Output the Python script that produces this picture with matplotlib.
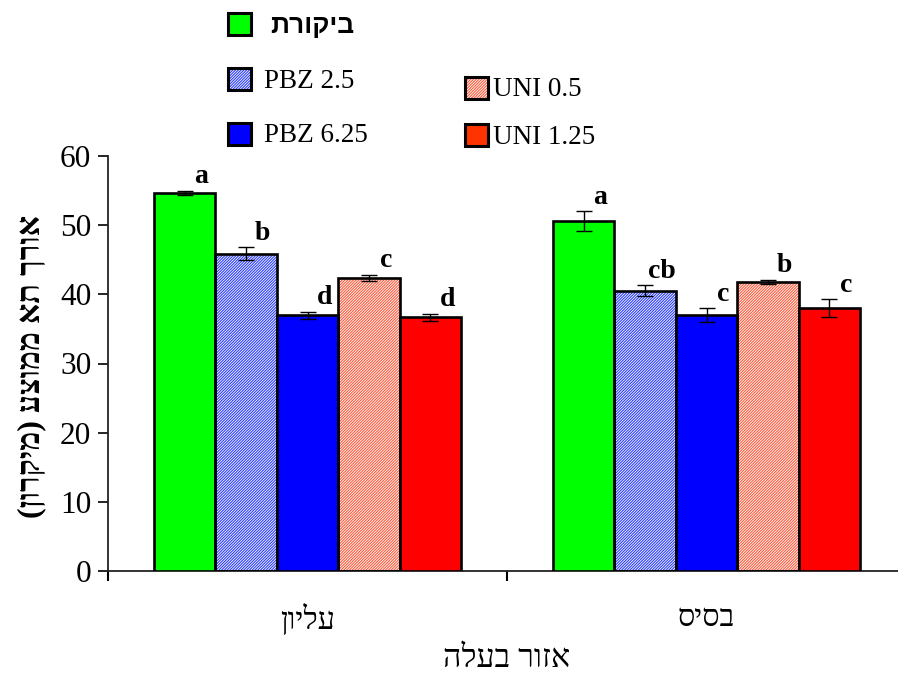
import matplotlib
matplotlib.use("Agg")
import matplotlib.pyplot as plt
from matplotlib.patches import Rectangle
import numpy as np

# ---- data -------------------------------------------------------------
regions = ["עליון", "בסיס"]                       # leaf region
treatments = ["ביקורת", "PBZ 2.5", "PBZ 6.25", "UNI 0.5", "UNI 1.25"]
control_vals = [54.7, 50.6]
pbz25_vals = [45.9, 40.5]
pbz625_vals = [37.0, 37.0]
uni05_vals = [42.4, 41.8]
uni125_vals = [36.7, 38.0]
control_err = [0.3, 1.4]
pbz25_err = [0.9, 0.8]
pbz625_err = [0.5, 1.0]
uni05_err = [0.45, 0.3]
uni125_err = [0.5, 1.3]
control_sig = ["a", "a"]
pbz25_sig = ["b", "cb"]
pbz625_sig = ["d", "c"]
uni05_sig = ["c", "b"]
uni125_sig = ["d", "c"]
y_ticks = [0, 10, 20, 30, 40, 50, 60]
y_label = "אורך תא ממוצע (מיקרון)"
x_label = "אזור בעלה"

values = [control_vals, pbz25_vals, pbz625_vals, uni05_vals, uni125_vals]
errors = [control_err, pbz25_err, pbz625_err, uni05_err, uni125_err]
sigs = [control_sig, pbz25_sig, pbz625_sig, uni05_sig, uni125_sig]


def visual(s):
    """Hebrew runs are drawn left-to-right, so put them in visual order."""
    if not any("\u0590" <= ch <= "\u05ff" for ch in s):
        return s
    swap = {"(": ")", ")": "("}
    return "".join(swap.get(ch, ch) for ch in reversed(s))


# ---- styles -----------------------------------------------------------
SERIF = ["Liberation Serif", "DejaVu Serif", "DejaVu Sans"]
SANS = ["Liberation Sans", "DejaVu Sans"]
plt.rcParams["font.family"] = SERIF
plt.rcParams["hatch.linewidth"] = 0.8

faces = ["#00ff00", "white", "#0000ff", "white", "#ff0000"]
hatch_cols = [None, "#2a3cff", None, "#ff5a3c", None]
hatches = [None, "////////////", None, "////////////", None]
legend_faces = ["#00ff00", "white", "#0000ff", "white", "#ff3300"]

W, H = 898, 674
fig = plt.figure(figsize=(W / 100, H / 100), dpi=100)
ax = fig.add_axes([108 / W, (H - 571) / H, 798 / W, 415 / H])

x = np.arange(len(regions))
bw = 0.154
offsets = (np.arange(len(treatments)) - 2) * bw

for i in range(len(treatments)):
    xs = x + offsets[i]
    if hatches[i]:
        ax.bar(xs, values[i], bw, color=faces[i], edgecolor=hatch_cols[i],
               hatch=hatches[i], linewidth=0, zorder=2)
        ax.bar(xs, values[i], bw, fill=False, edgecolor="black",
               linewidth=1.9, zorder=3)
    else:
        ax.bar(xs, values[i], bw, color=faces[i], edgecolor="black",
               linewidth=1.9, zorder=3)
    ax.errorbar(xs, values[i], yerr=errors[i], fmt="none", ecolor="black",
                elinewidth=1.0, capsize=5.5, capthick=1.0, zorder=4)
    for xi, v, e, s in zip(xs, values[i], errors[i], sigs[i]):
        ax.text(xi + 0.042, v + e + 0.2, s, ha="center", va="bottom",
                fontsize=20, fontweight="bold", zorder=5)

ax.set_xlim(-0.5, 1.5)
ax.set_ylim(0, 60)
ax.set_yticks(y_ticks)
ax.tick_params(axis="y", labelsize=22.5, length=7, width=1.2, pad=5,
               direction="out")
ax.set_xticks([-0.5, 0.5, 1.5])
ax.set_xticklabels([])
ax.tick_params(axis="x", which="major", length=7, width=1.5, direction="out")
ax.set_xticks(x, minor=True)
ax.set_xticklabels([visual(r) for r in regions], minor=True)
ax.tick_params(axis="x", which="minor", length=0, labelsize=22, pad=24)

for side in ("top", "right"):
    ax.spines[side].set_visible(False)
for side in ("left", "bottom"):
    ax.spines[side].set_linewidth(1.3)
    ax.spines[side].set_color("#222222")

ax.set_xlabel(visual(x_label), fontsize=23, labelpad=6)
fig.text(32 / W, 1 - 366 / H, visual(y_label), rotation=90, fontsize=23,
         fontweight="bold", ha="center", va="center")

# ---- legend drawn in figure pixels ----------------------------------
legend_boxes = [(228, 13), (228, 68), (228, 123), (465, 77), (465, 124)]
legend_text_x = [270, 264, 264, 493, 493]
for i, (bx, by) in enumerate(legend_boxes):
    w, h = 23, 22
    rect = Rectangle((bx / W, 1 - (by + h) / H), w / W, h / H,
                     transform=fig.transFigure, facecolor=legend_faces[i],
                     edgecolor=hatch_cols[i] if hatches[i] else "black",
                     hatch=hatches[i], linewidth=0 if hatches[i] else 2.2)
    fig.patches.append(rect)
    if hatches[i]:
        fig.patches.append(Rectangle((bx / W, 1 - (by + h) / H), w / W, h / H,
                                     transform=fig.transFigure, fill=False,
                                     edgecolor="black", linewidth=2.2))
    label = treatments[i]
    if i == 0:
        fig.text(legend_text_x[i] / W, 1 - (by + 13) / H, visual(label),
                 fontsize=19, family=SANS, fontweight="bold",
                 ha="left", va="center")
    else:
        fig.text(legend_text_x[i] / W, 1 - (by + 13) / H, label,
                 fontsize=19.5, ha="left", va="center")

fig.savefig("out.png", dpi=100)
